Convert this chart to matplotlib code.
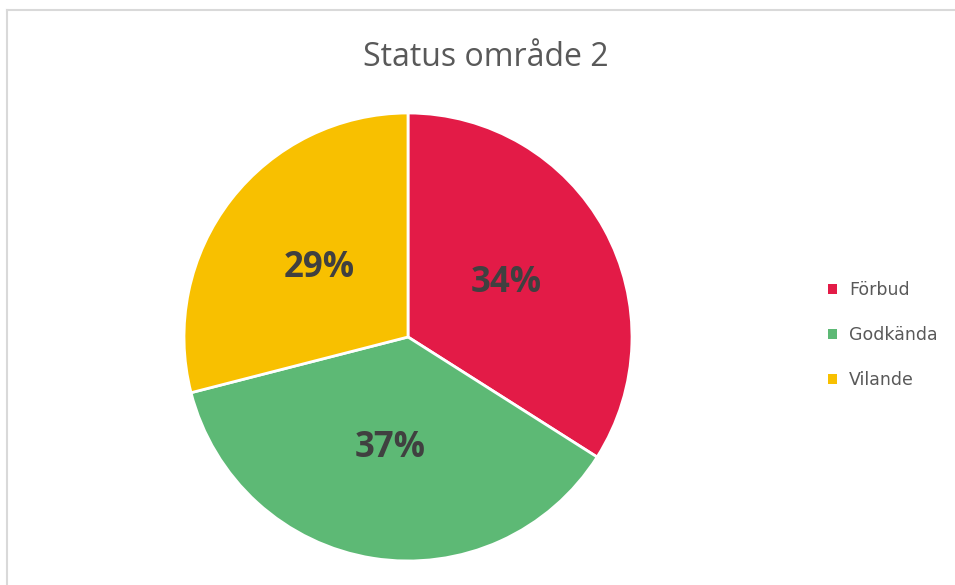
import matplotlib
matplotlib.use("Agg")
import matplotlib.pyplot as plt
from matplotlib.patches import Patch
from matplotlib.lines import Line2D

labels = ["Förbud", "Godkända", "Vilande"]
values = [34, 37, 29]
colors = ["#E31B47", "#5DB975", "#F8C000"]

plt.rcParams['font.family'] = ['Open Sans', 'DejaVu Sans']

fig = plt.figure(figsize=(9.55, 5.85), dpi=100)

# light gray chart border (top and left visible)
fig.add_artist(Line2D([7/955, 7/955], [0, 1 - 10/585], color="#D9D9D9", lw=1.5))
fig.add_artist(Line2D([7/955, 1], [1 - 10/585, 1 - 10/585], color="#D9D9D9", lw=1.5))

ax = fig.add_axes([184/955, 24/585, 448/955, 448/585])
wedges, texts, autotexts = ax.pie(values, colors=colors, startangle=90, counterclock=False,
                                  autopct='%d%%', pctdistance=0.5,
                                  wedgeprops=dict(edgecolor="white", linewidth=2))
for t in autotexts:
    t.set_fontsize(25)
    t.set_fontweight("bold")
    t.set_color("#404040")
ax.set_xlim(-1, 1)
ax.set_ylim(-1, 1)

fig.text(486/955, 1 - 57/585, "Status område 2", ha="center", va="center",
         fontsize=23, color="#595959")

handles = [Patch(facecolor=c, edgecolor="none") for c in colors]
fig.legend(handles, labels, loc="center left", bbox_to_anchor=(812/955, 1 - 335/585),
           frameon=False, prop=dict(family="DejaVu Sans", size=12.5), labelcolor="#595959",
           handlelength=0.55, handleheight=0.55, handletextpad=0.7, labelspacing=1.55)

fig.savefig("out.png", dpi=100)
